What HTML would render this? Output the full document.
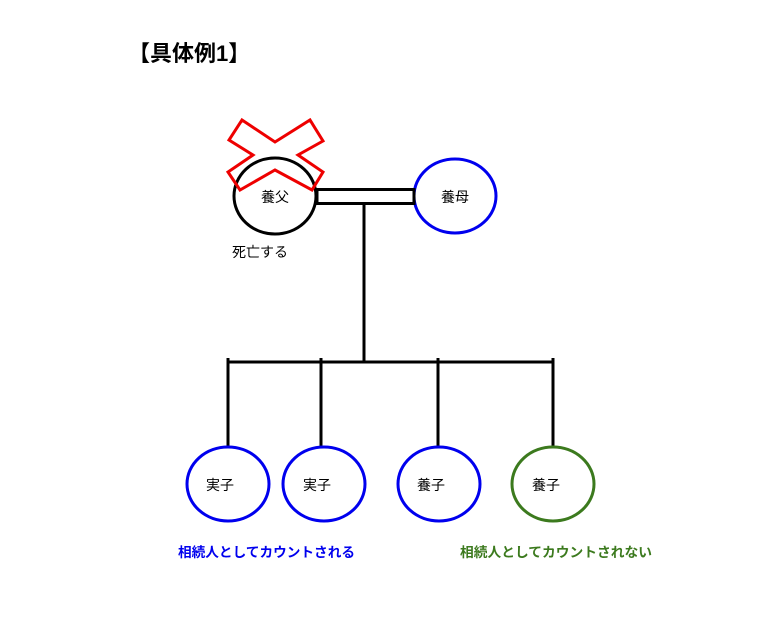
<!DOCTYPE html>
<html><head><meta charset="utf-8"><style>
body{margin:0;background:#fff;}
svg{display:block}
text{font-family:"Liberation Sans","Noto Sans CJK JP",sans-serif;}
</style></head><body>
<svg width="768" height="622" viewBox="0 0 768 622">
<text x="128" y="61" font-size="22" font-weight="bold" fill="#000">【具体例1】</text>
<ellipse cx="275" cy="196" rx="41" ry="38" fill="none" stroke="#000" stroke-width="3"/>
<ellipse cx="455" cy="196" rx="41" ry="37" fill="none" stroke="#0000ee" stroke-width="3"/>
<polygon points="242,120 275,142 310,120 323,141 298,155 323,172 312,190 275,170 240,190 228,172 253,155 229,140" fill="none" stroke="#ee0000" stroke-width="3"/>
<rect x="317" y="189.5" width="97" height="14" fill="#fff" stroke="#000" stroke-width="3"/>
<text x="275" y="202" font-size="14" text-anchor="middle">養父</text>
<text x="455" y="202" font-size="14" text-anchor="middle">養母</text>
<text x="232" y="257" font-size="14">死亡する</text>
<line x1="364" y1="204" x2="364" y2="362" stroke="#000" stroke-width="3"/>
<line x1="228" y1="362" x2="553" y2="362" stroke="#000" stroke-width="3"/>
<g stroke="#000" stroke-width="3">
<line x1="228" y1="358" x2="228" y2="447"/>
<line x1="321" y1="358" x2="321" y2="447"/>
<line x1="438" y1="358" x2="438" y2="447"/>
<line x1="553" y1="358" x2="553" y2="447"/>
</g>
<ellipse cx="228" cy="484" rx="41" ry="37" fill="none" stroke="#0000ee" stroke-width="3"/>
<ellipse cx="324" cy="484" rx="41" ry="37" fill="none" stroke="#0000ee" stroke-width="3"/>
<ellipse cx="439" cy="484" rx="41" ry="37" fill="none" stroke="#0000ee" stroke-width="3"/>
<ellipse cx="553" cy="484" rx="41" ry="37" fill="none" stroke="#3c7a1e" stroke-width="3"/>
<g font-size="14" text-anchor="middle">
<text x="220" y="490">実子</text>
<text x="317" y="490">実子</text>
<text x="431" y="490">養子</text>
<text x="546" y="490">養子</text>
</g>
<text x="178" y="557" font-size="13.5" font-weight="bold" fill="#0000ee" textLength="177" lengthAdjust="spacingAndGlyphs">相続人としてカウントされる</text>
<text x="460" y="557" font-size="13.5" font-weight="bold" fill="#3c7a1e" textLength="192" lengthAdjust="spacingAndGlyphs">相続人としてカウントされない</text>
</svg>
</body></html>
